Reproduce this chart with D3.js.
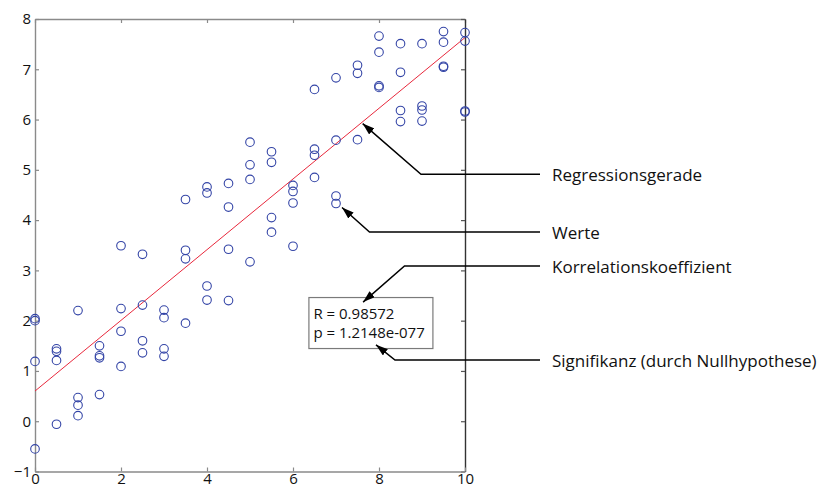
<!DOCTYPE html>
<html>
<head>
<meta charset="utf-8">
<script src="https://cdn.jsdelivr.net/npm/d3@7"></script>
<style>
  html, body { margin: 0; padding: 0; background: #fff; }
  svg { display: block; font-family: "Open Sans", Lato, sans-serif; }
</style>
</head>
<body>
<svg id="chart" width="829" height="488"></svg>
<script>
// Measured pairs (x, y)
const xValues = [
  0, 0, 0, 0,
  0.5, 0.5, 0.5, 0.5,
  1, 1, 1, 1,
  1.5, 1.5, 1.5, 1.5,
  2, 2, 2, 2,
  2.5, 2.5, 2.5, 2.5,
  3, 3, 3, 3,
  3.5, 3.5, 3.5, 3.5,
  4, 4, 4, 4,
  4.5, 4.5, 4.5, 4.5,
  5, 5, 5, 5,
  5.5, 5.5, 5.5, 5.5,
  6, 6, 6, 6,
  6.5, 6.5, 6.5, 6.5,
  7, 7, 7, 7,
  7.5, 7.5, 7.5,
  8, 8, 8, 8,
  8.5, 8.5, 8.5, 8.5,
  9, 9, 9, 9,
  9.5, 9.5, 9.5, 9.5,
  10, 10, 10, 10
];
const yValues = [
  2.04, 2.00, 1.19, -0.55,
  1.44, 1.39, 1.21, -0.06,
  2.20, 0.47, 0.32, 0.11,
  1.50, 1.30, 1.26, 0.53,
  3.49, 2.24, 1.79, 1.09,
  3.32, 2.31, 1.60, 1.36,
  2.21, 2.06, 1.44, 1.29,
  4.41, 3.40, 3.23, 1.95,
  4.66, 4.54, 2.69, 2.41,
  4.73, 4.26, 3.42, 2.40,
  5.55, 5.10, 4.81, 3.17,
  5.36, 5.15, 4.05, 3.76,
  4.69, 4.57, 4.34, 3.48,
  6.60, 5.41, 5.29, 4.85,
  6.83, 5.59, 4.48, 4.33,
  7.08, 6.92, 5.60,
  7.66, 7.34, 6.67, 6.64,
  7.51, 6.94, 6.18, 5.96,
  7.51, 6.27, 6.19, 5.97,
  7.75, 7.54, 7.06, 7.04,
  7.73, 7.56, 6.17, 6.15
];

// Fitted regression line y = fitIntercept + fitSlope * x
const fitIntercept = 0.60;
const fitSlope = 0.703;

// Statistics shown in the info box
const statR = "0.98572";
const statP = "1.2148e-077";

const xTicks = [0, 2, 4, 6, 8, 10];
const yTicks = [-1, 0, 1, 2, 3, 4, 5, 6, 7, 8];

const svg = d3.select("#chart");

const x = d3.scaleLinear().domain([0, 10]).range([35, 465]);
const y = d3.scaleLinear().domain([-1, 8]).range([471.5, 19]);

const axisColor = "#8a8a8a";

// Axes box with inward ticks (left/bottom labelled, top/right plain)
function styleAxis(g) {
  g.select(".domain").attr("stroke", axisColor).attr("stroke-width", 1.4);
  g.selectAll(".tick line").attr("stroke", axisColor).attr("stroke-width", 1.2);
  g.selectAll(".tick text").attr("fill", "#111").style("font-size", "15px");
}

svg.append("g")
  .attr("transform", `translate(0,${y(8)})`)
  .call(d3.axisTop(x).tickValues(xTicks).tickSize(-4).tickSizeOuter(0).tickFormat(""))
  .call(styleAxis);

svg.append("g")
  .attr("transform", `translate(${x(10)},0)`)
  .call(d3.axisRight(y).tickValues(yTicks).tickSize(-4).tickSizeOuter(0).tickFormat(""))
  .call(g => {
    g.select(".domain").attr("stroke", "#333").attr("stroke-width", 1.4);
    g.selectAll(".tick line").attr("stroke", "#555").attr("stroke-width", 1.2);
  });

svg.append("g")
  .attr("transform", `translate(${x(0)},0)`)
  .call(d3.axisLeft(y).tickValues(yTicks).tickSize(-4).tickSizeOuter(0).tickPadding(4).tickFormat(d3.format("d")))
  .call(styleAxis)
  .call(g => g.attr("font-family", null));

svg.append("g")
  .attr("transform", `translate(0,${y(-1)})`)
  .call(d3.axisBottom(x).tickValues(xTicks).tickSize(-4).tickSizeOuter(0).tickPadding(2).tickFormat(d3.format("d")))
  .call(styleAxis)
  .call(g => g.attr("font-family", null));

// Regression line
svg.append("line")
  .attr("x1", x(0)).attr("y1", y(fitIntercept))
  .attr("x2", x(10)).attr("y2", y(fitIntercept + fitSlope * 10))
  .attr("stroke", "#e8283c")
  .attr("stroke-width", 1);

// Data markers
const points = xValues.map((v, i) => ({ x: v, y: yValues[i] }));
svg.append("g")
  .selectAll("circle")
  .data(points)
  .join("circle")
  .attr("cx", d => x(d.x))
  .attr("cy", d => y(d.y))
  .attr("r", 4.3)
  .attr("fill", "none")
  .attr("stroke", "#3344a6")
  .attr("stroke-width", 1.1);

// Info box with R and p
const boxX = x(6.37), boxY = y(2.46);
const box = svg.append("g");
box.append("rect")
  .attr("x", boxX).attr("y", boxY)
  .attr("width", 124).attr("height", 51)
  .attr("fill", "#fff")
  .attr("stroke", "#7a7a7a")
  .attr("stroke-width", 1.2);
box.append("text")
  .attr("x", boxX + 4.5).attr("y", boxY + 21)
  .style("font-size", "15px").attr("fill", "#111")
  .text(`R = ${statR}`);
box.append("text")
  .attr("x", boxX + 4.5).attr("y", boxY + 40.5)
  .style("font-size", "15px").attr("fill", "#111")
  .text(`p = ${statP}`);

// Annotation leaders: label on the right, elbow, arrow tip
svg.append("defs").append("marker")
  .attr("id", "arrow")
  .attr("viewBox", "0 0 12 8")
  .attr("refX", 12).attr("refY", 4)
  .attr("markerWidth", 12).attr("markerHeight", 8)
  .attr("markerUnits", "userSpaceOnUse")
  .attr("orient", "auto")
  .append("path")
  .attr("d", "M0,0 L12,4 L0,8 Z")
  .attr("fill", "#000");

const annotations = [
  { text: "Regressionsgerade", lineY: 174.3, elbowX: 421, tip: [7.62, 5.92] },
  { text: "Werte", lineY: 232, elbowX: 369.5, tip: [7.14, 4.25] },
  { text: "Korrelationskoeffizient", lineY: 266, elbowX: 404.5, tip: [7.63, 2.37] },
  { text: "Signifikanz (durch Nullhypothese)", lineY: 360, elbowX: 395, tip: [7.93, 1.52] }
];
const leaderEndX = 540;
const labelX = 552;

const ann = svg.append("g");
annotations.forEach(a => {
  ann.append("path")
    .attr("d", d3.line()([
      [leaderEndX, a.lineY],
      [a.elbowX, a.lineY],
      [x(a.tip[0]), y(a.tip[1])]
    ]))
    .attr("fill", "none")
    .attr("stroke", "#000")
    .attr("stroke-width", 1.5)
    .attr("marker-end", "url(#arrow)");
  ann.append("text")
    .attr("x", labelX)
    .attr("y", a.lineY + 6.5)
    .style("font-size", "17px")
    .attr("fill", "#111")
    .text(a.text);
});
</script>
</body>
</html>
